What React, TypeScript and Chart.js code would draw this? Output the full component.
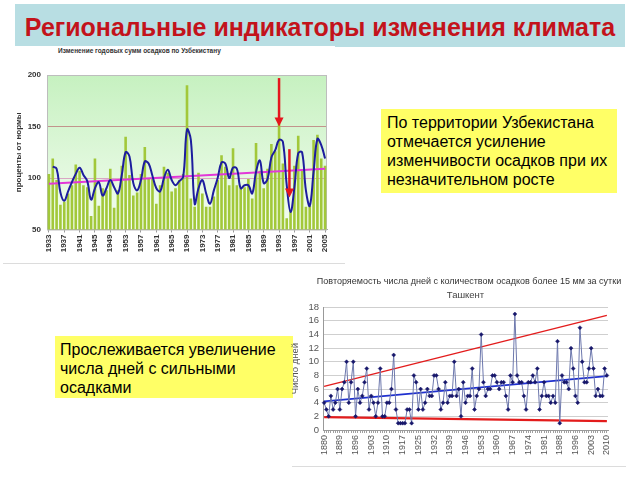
import React, { useEffect, useRef } from "react";
import { Chart, registerables } from "chart.js";

Chart.register(...registerables);

// ---------- Top chart: annual precipitation, % of norm, Uzbekistan ----------
const TOP_FIRST_YEAR = 1933;
const TOP_LAST_YEAR = 2005;
const TOP_YEARS: number[] = [];
for (let y = TOP_FIRST_YEAR; y <= TOP_LAST_YEAR; y++) TOP_YEARS.push(y);

const TOP_TICK_YEARS = [1933, 1937, 1941, 1945, 1949, 1953, 1957, 1961, 1965, 1969, 1973, 1977, 1981, 1985, 1989, 1993, 1997, 2001, 2005];

// bars, 1933..2005
const PRECIP_PERCENT = [
  104, 119, 98, 74, 77, 85, 93, 113, 107, 93,
  91, 63, 119, 73, 90, 88, 109, 71, 88, 112,
  140, 103, 83, 86, 104, 130, 100, 100, 75, 93,
  111, 105, 87, 90, 98, 104, 190, 80, 72, 105,
  85, 72, 72, 82, 98, 122, 111, 93, 129, 93,
  90, 91, 99, 80, 134, 107, 90, 109, 133, 126,
  153, 114, 61, 68, 112, 141, 107, 72, 73, 137,
  142, 119, 112,
];

// smoothed curve, 1933..2005 (no value for 1933)
const PRECIP_SMOOTHED = [
  null, 111, 109, 86, 78, 87, 96, 104, 110, 103,
  97, 79, 90, 96, 83, 90, 98, 91, 85, 103,
  125, 121, 95, 88, 98, 116, 114, 102, 90, 87,
  100, 108, 98, 93, 97, 101, 147, 137, 75, 90,
  98, 85, 75, 88, 100, 115, 114, 100, 110, 109,
  90, 93, 93, 85, 106, 117, 95, 99, 120, 127,
  137, 135, 93, 67, 91, 124, 125, 88, 73, 106,
  138, 132, 119,
];

// linear trend: value at first and last year
const PRECIP_TREND_ENDS = [94.5, 109];

// red arrows (year position, start value, tip value)
const ARROW_YEARS = [1993, 1995.7];
const ARROW_FROM = [197, 128];
const ARROW_TO = [150, 81];

// ---------- Bottom chart: days with > 15 mm, Tashkent ----------
const RAIN_FIRST_YEAR = 1880;
const RAIN_LAST_YEAR = 2010;
const RAIN_MISSING_YEARS = [1882, 1887, 1920, 1993];
const RAIN_YEARS: number[] = [];
for (let y = RAIN_FIRST_YEAR; y <= RAIN_LAST_YEAR; y++) {
  if (!RAIN_MISSING_YEARS.includes(y)) RAIN_YEARS.push(y);
}
const RAIN_TICK_YEARS = [1880, 1889, 1896, 1903, 1910, 1917, 1925, 1932, 1939, 1946, 1953, 1960, 1967, 1974, 1981, 1988, 1996, 2003, 2010];

const HEAVY_RAIN_DAYS = [
  4, 3, 2, 5, 3, 4, 6, 3, 6, 7,
  10, 4, 7, 10, 2, 6, 4, 5, 7, 9,
  3, 5, 4, 2, 4, 9, 2, 2, 4, 4,
  6, 11, 3, 1, 1, 1, 1, 3, 3, 1,
  8, 7, 3, 6, 3, 4, 6, 5, 5, 8,
  8, 6, 3, 4, 7, 4, 5, 5, 10, 5,
  6, 2, 7, 4, 5, 5, 9, 3, 5, 6,
  14, 7, 5, 6, 6, 8, 8, 7, 6, 7,
  7, 5, 3, 8, 7, 17, 8, 7, 7, 5,
  3, 7, 7, 8, 7, 9, 3, 5, 7, 5,
  5, 4, 5, 4, 13, 1, 8, 7, 7, 6,
  12, 9, 5, 4, 15, 10, 7, 7, 9, 12,
  9, 5, 6, 5, 5, 9, 8,
];

const RAIN_TREND_ENDS = [4.2, 7.9];
const RAIN_UPPER_ENDS = [6.4, 16.8];
const RAIN_LOWER_ENDS = [1.9, 1.3];

const FONT = '"Liberation Sans", Arial, sans-serif';

function endpoints(n: number, ends: number[]) {
  return Array.from({ length: n }, (_, i) => (i === 0 ? ends[0] : i === n - 1 ? ends[1] : null));
}

function PrecipChart() {
  const ref = useRef<HTMLCanvasElement>(null);
  useEffect(() => {
    const canvas = ref.current!;
    const bgPlugin = {
      id: "plotBg",
      beforeDraw(chart: any) {
        const { ctx, chartArea: a } = chart;
        const g = ctx.createLinearGradient(0, a.top, 0, a.bottom);
        g.addColorStop(0, "#c6f1c0");
        g.addColorStop(1, "#f4fdf1");
        ctx.save();
        ctx.fillStyle = g;
        ctx.fillRect(a.left, a.top, a.right - a.left, a.bottom - a.top);
        ctx.restore();
      },
      beforeDatasetsDraw(chart: any) {
        const { ctx, chartArea: a } = chart;
        ctx.save();
        ctx.strokeStyle = "#bdbdbd";
        ctx.lineWidth = 1;
        ctx.strokeRect(a.left + 0.5, a.top + 0.5, a.right - a.left - 1, a.bottom - a.top);
        ctx.restore();
      },
    };
    const arrowPlugin = {
      id: "arrows",
      afterDatasetsDraw(chart: any) {
        const { ctx } = chart;
        const xs = chart.scales.x;
        const ys = chart.scales.y;
        ARROW_YEARS.forEach((yr, k) => {
          const idx = yr - TOP_FIRST_YEAR;
          const i0 = Math.floor(idx);
          const f = idx - i0;
          const p0 = xs.getPixelForValue(i0);
          const p1 = xs.getPixelForValue(i0 + 1);
          const px = p0 + f * (p1 - p0);
          const y1 = ys.getPixelForValue(ARROW_FROM[k]);
          const y2 = ys.getPixelForValue(ARROW_TO[k]);
          ctx.save();
          ctx.strokeStyle = "#e5161d";
          ctx.fillStyle = "#e5161d";
          ctx.lineWidth = 2.5;
          ctx.beginPath();
          ctx.moveTo(px, y1);
          ctx.lineTo(px, y2 - 8);
          ctx.stroke();
          ctx.beginPath();
          ctx.moveTo(px - 4.5, y2 - 9);
          ctx.lineTo(px + 4.5, y2 - 9);
          ctx.lineTo(px, y2);
          ctx.closePath();
          ctx.fill();
          ctx.restore();
        });
      },
    };
    const n = TOP_YEARS.length;
    const chart = new Chart(canvas, {
      type: "bar",
      data: {
        labels: TOP_YEARS.map(String),
        datasets: [
          {
            type: "line",
            data: PRECIP_SMOOTHED,
            borderColor: "#1d1d9e",
            borderWidth: 2,
            pointRadius: 0,
            tension: 0.4,
            order: 0,
          } as any,
          {
            type: "line",
            data: endpoints(n, PRECIP_TREND_ENDS),
            borderColor: "#e238d8",
            borderWidth: 2,
            pointRadius: 0,
            spanGaps: true,
            order: 1,
          } as any,
          {
            type: "bar",
            data: PRECIP_PERCENT,
            backgroundColor: "#a2c83a",
            barPercentage: 0.68,
            categoryPercentage: 1,
            order: 2,
          },
        ],
      },
      options: {
        animation: false,
        responsive: false,
        layout: { padding: { left: 4, top: 17, right: 18, bottom: 0 } },
        plugins: { legend: { display: false }, tooltip: { enabled: false } },
        scales: {
          x: {
            offset: true,
            grid: {
              offset: false,
              drawOnChartArea: false,
              tickLength: 3,
              color: (c: any) => (TOP_TICK_YEARS.includes(TOP_YEARS[c.index]) ? "#9a9a9a" : "rgba(0,0,0,0)"),
            },
            border: { color: "#a8a8a8" },
            ticks: {
              autoSkip: false,
              maxRotation: 90,
              minRotation: 90,
              padding: 2,
              color: "#333",
              font: { family: FONT, size: 8, weight: "bold" },
              callback: (_v: any, i: number) => (TOP_TICK_YEARS.includes(TOP_YEARS[i]) ? String(TOP_YEARS[i]) : ""),
            },
            afterFit: (s: any) => {
              s.height = 36.5;
            },
          },
          y: {
            min: 50,
            max: 200,
            ticks: { stepSize: 50, autoSkip: false, padding: 6, color: "#333", font: { family: FONT, size: 8, weight: "bold" } },
            title: {
              display: true,
              text: "проценты от нормы",
              color: "#333",
              font: { family: FONT, size: 8, weight: "bold" },
              padding: 0,
            },
            grid: {
              drawTicks: false,
              color: (c: any) =>
                c.tick && c.tick.value === 150 ? "#c2948c" : c.tick && c.tick.value === 100 ? "#d9a6c4" : "rgba(0,0,0,0)",
            },
            border: { color: "#a8a8a8" },
            afterFit: (s: any) => {
              s.width = 33;
            },
          },
        },
      },
      plugins: [bgPlugin, arrowPlugin],
    } as any);
    return () => chart.destroy();
  }, []);
  return (
    <canvas
      ref={ref}
      width={335}
      height={208}
      style={{ position: "absolute", left: 10, top: 58, width: 335, height: 208 }}
    />
  );
}

function RainChart() {
  const ref = useRef<HTMLCanvasElement>(null);
  useEffect(() => {
    const canvas = ref.current!;
    const n = RAIN_YEARS.length;
    const chart = new Chart(canvas, {
      type: "line",
      data: {
        labels: RAIN_YEARS.map(String),
        datasets: [
          {
            data: HEAVY_RAIN_DAYS,
            borderColor: "#6d78ad",
            borderWidth: 1,
            pointRadius: 2,
            pointStyle: "rectRot",
            pointBackgroundColor: "#17176b",
            pointBorderColor: "#17176b",
            pointBorderWidth: 0.5,
            order: 0,
          },
          {
            data: endpoints(n, RAIN_TREND_ENDS),
            borderColor: "#1f30cf",
            borderWidth: 1.6,
            pointRadius: 0,
            spanGaps: true,
            order: 1,
          },
          {
            data: endpoints(n, RAIN_UPPER_ENDS),
            borderColor: "#e31c1c",
            borderWidth: 1.4,
            pointRadius: 0,
            spanGaps: true,
            order: 2,
          },
          {
            data: endpoints(n, RAIN_LOWER_ENDS),
            borderColor: "#e31c1c",
            borderWidth: 2.2,
            pointRadius: 0,
            spanGaps: true,
            order: 3,
          },
        ],
      },
      options: {
        animation: false,
        responsive: false,
        layout: { padding: { left: 0, top: 0, right: 0, bottom: 0 } },
        plugins: {
          legend: { display: false },
          tooltip: { enabled: false },
          title: {
            display: true,
            text: "Повторяемость числа дней с количеством осадков более 15 мм за сутки",
            color: "#333",
            font: { family: FONT, size: 9, weight: "normal" },
            padding: { top: 4, bottom: 2 },
          },
          subtitle: {
            display: true,
            text: "Ташкент",
            fullSize: false,
            color: "#444",
            font: { family: FONT, size: 9.5, weight: "normal" },
            padding: { top: 1, bottom: 6 },
          },
        },
        scales: {
          x: {
            offset: true,
            grid: { offset: false, drawOnChartArea: false, tickLength: 3, color: "#a0a0a0" },
            border: { color: "#999" },
            ticks: {
              autoSkip: false,
              maxRotation: 90,
              minRotation: 90,
              padding: 2,
              color: "#555",
              font: { family: FONT, size: 9 },
              callback: (_v: any, i: number) => (RAIN_TICK_YEARS.includes(RAIN_YEARS[i]) ? String(RAIN_YEARS[i]) : ""),
            },
            afterFit: (s: any) => {
              s.height = 38;
            },
          },
          y: {
            min: 0,
            max: 18,
            ticks: { stepSize: 2, autoSkip: false, padding: 4, color: "#555", font: { family: FONT, size: 9.5 } },
            title: {
              display: true,
              text: "Число дней",
              color: "#555",
              font: { family: FONT, size: 9.5 },
              padding: 0,
            },
            grid: { drawTicks: false, color: "#cfcfcf" },
            border: { color: "#999" },
            afterFit: (s: any) => {
              s.width = 33;
            },
          },
          yPad: {
            position: "right",
            display: true,
            ticks: { display: false },
            grid: { display: false },
            border: { display: false },
            afterFit: (s: any) => {
              s.width = 40;
            },
          },
        },
      },
    } as any);
    return () => chart.destroy();
  }, []);
  return (
    <canvas
      ref={ref}
      width={358}
      height={196}
      style={{ position: "absolute", left: 290, top: 272, width: 358, height: 196 }}
    />
  );
}

const boxText: React.CSSProperties = {
  position: "absolute",
  background: "#ffff66",
  fontFamily: FONT,
  fontSize: 16,
  lineHeight: "19px",
  color: "#000",
  boxSizing: "border-box",
  whiteSpace: "nowrap",
};

export default function App() {
  return (
    <div
      style={{
        position: "fixed",
        left: 0,
        top: 0,
        width: 640,
        height: 480,
        background: "#fff",
        overflow: "hidden",
        fontFamily: FONT,
      }}
    >
      <div
        style={{
          position: "absolute",
          left: 15,
          top: 4,
          width: 610,
          height: 43,
          background: "#b8dee3",
        }}
      />
      <div style={{ position: "absolute", left: 0, top: 46, width: 335, height: 6, background: "#fff" }} />
      <div
        style={{
          position: "absolute",
          left: 0,
          top: 12,
          width: 640,
          textAlign: "center",
          color: "#c3131b",
          fontWeight: "bold",
          fontSize: 25,
          lineHeight: "30px",
          whiteSpace: "nowrap",
        }}
      >
        Региональные индикаторы изменения климата
      </div>

      <div
        style={{
          position: "absolute",
          left: 58,
          top: 46,
          fontSize: 6.5,
          fontWeight: "bold",
          color: "#333",
          whiteSpace: "nowrap",
          lineHeight: "9px",
        }}
      >
        Изменение годовых сумм осадков по Узбекистану
      </div>
      <PrecipChart />
      <div style={{ position: "absolute", left: 3, top: 263, width: 342, height: 1, background: "#dcdcdc" }} />

      <div style={{ ...boxText, left: 381, top: 109, width: 236, height: 84, padding: "4px 0 0 6px" }}>
        По территории Узбекистана
        <br />
        отмечается усиление
        <br />
        изменчивости осадков при их
        <br />
        незначительном росте
      </div>

      <div style={{ ...boxText, left: 55, top: 336, width: 238, height: 62, padding: "4px 0 0 5px" }}>
        Прослеживается увеличение
        <br />
        числа дней с сильными
        <br />
        осадками
      </div>

      <RainChart />
      <div style={{ position: "absolute", left: 292, top: 466, width: 334, height: 1, background: "#dcdcdc" }} />
    </div>
  );
}
